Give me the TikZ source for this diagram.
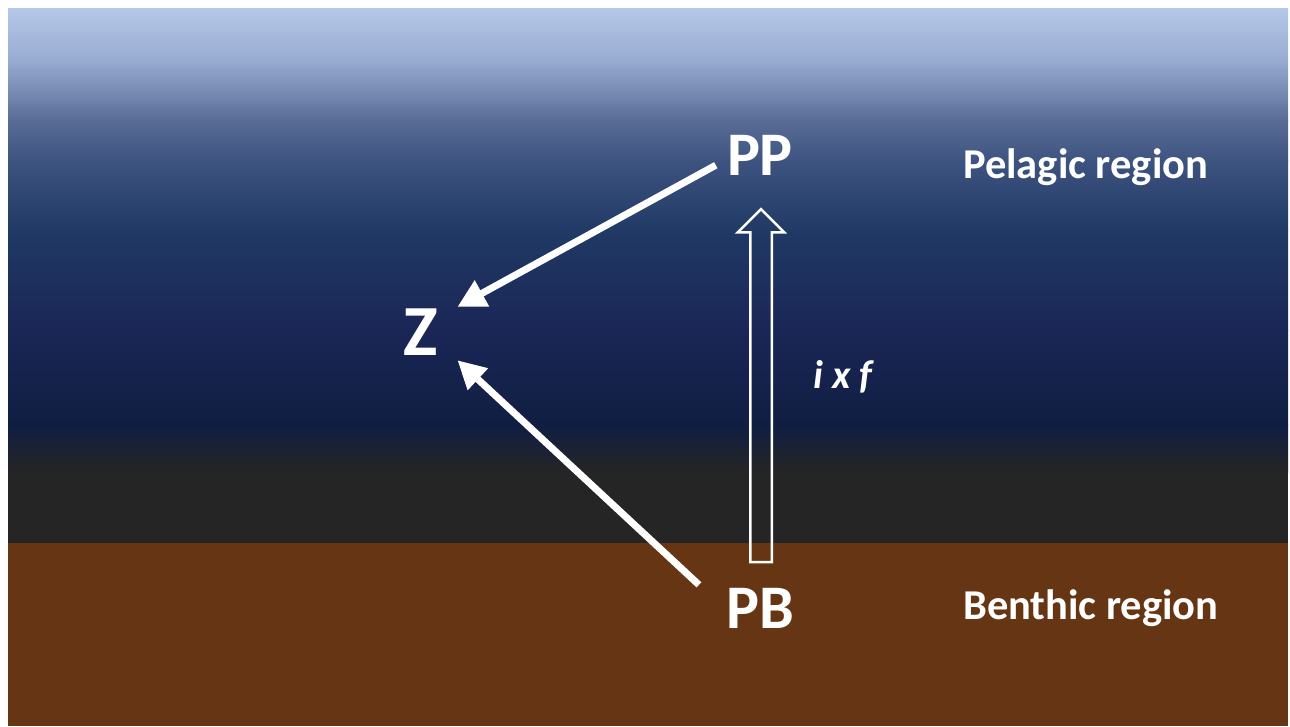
\documentclass[tikz,border=0pt]{standalone}
\usepackage{fontspec}
\setmainfont{Carlito}
\usepackage{xcolor}
\usepackage{tikz}
\usetikzlibrary{arrows.meta, positioning, calc, shapes.arrows}
\definecolor{skytop}{RGB}{182,200,232}
\definecolor{skyhigh}{RGB}{152,172,210}
\definecolor{skymid}{RGB}{88,108,150}
\definecolor{sealight}{RGB}{62,84,128}
\definecolor{seamid}{RGB}{32,57,101}
\definecolor{seadeep}{RGB}{26,38,86}
\definecolor{seadark}{RGB}{16,30,66}
\definecolor{abyss}{RGB}{37,37,37}
\definecolor{sediment}{RGB}{102,53,19}

\begin{document}
\begin{tikzpicture}[x=1pt, y=-1pt,
    band/.style={draw=none},
    pool/.style={inner sep=0pt, text=white, font=\bfseries\fontsize{62}{62}\selectfont, text height=40pt, text depth=0pt, anchor=base},
    zoo/.style={pool, font=\bfseries\fontsize{72}{72}\selectfont, text height=47pt},
    region/.style={inner sep=0pt, text=white, font=\bfseries\fontsize{42.5}{42.5}\selectfont, anchor=base west},
    arr/.style={-{Triangle[length=28pt, width=28pt]}, line width=7pt, white},
    flux/.style={single arrow, draw=white, line width=2.5pt, fill=none, inner xsep=0pt, inner ysep=9.5pt, minimum width=44pt, single arrow head extend=12.5pt, single arrow head indent=0pt, outer sep=0pt, rotate=90}
]
\useasboundingbox (0,0) rectangle (1290,726);
% water column
\shade[band, top color=skytop, bottom color=skyhigh] (8,8) rectangle (1288,60.5);
\shade[band, top color=skyhigh, bottom color=skymid] (8,60) rectangle (1288,120.5);
\shade[band, top color=skymid, bottom color=sealight] (8,120) rectangle (1288,160.5);
\shade[band, top color=sealight, bottom color=seamid] (8,160) rectangle (1288,230.5);
\shade[band, top color=seamid, bottom color=seadeep] (8,230) rectangle (1288,330.5);
\shade[band, top color=seadeep, bottom color=seadark] (8,330) rectangle (1288,425.5);
\shade[band, top color=seadark, bottom color=abyss] (8,425) rectangle (1288,472.5);
\fill[abyss] (8,472) rectangle (1288,543.5);
% sediment
\fill[sediment] (8,543) rectangle (1288,726);

\node[pool] (PP) at (760,175) {PP};
\node[zoo] (Z) at (421,355) {Z};
\node[pool] (PB) at (760,628) {PB};
\node[region] (pelagic) at (963,178) {Pelagic region};
\node[region] (benthic) at (963,619) {Benthic region};

\draw[arr] ([shift={(-11,-10)}]PP.south west) -- ([shift={(19,-1)}]Z.north east);
\draw[arr] ([shift={(-27,-3)}]PB.north west) -- ([shift={(19,5)}]Z.south east);

\node[flux, minimum height=353pt] (uptake) at (761,391) {};
\node[region, font=\bfseries\itshape\fontsize{40}{40}\selectfont] (rate) at (813,388) {i x f};
\end{tikzpicture}
\end{document}
